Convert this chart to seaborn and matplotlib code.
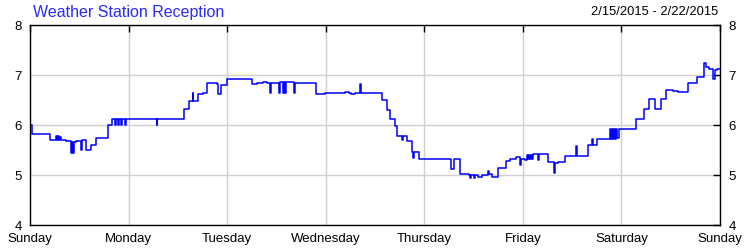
import matplotlib
matplotlib.use("Agg")
import matplotlib.pyplot as plt
import seaborn as sns
import pandas as pd
import numpy as np

# ---- data -------------------------------------------------------------
day_labels = ["Sunday", "Monday", "Tuesday", "Wednesday", "Thursday",
              "Friday", "Saturday", "Sunday"]
y_ticks = [4, 5, 6, 7, 8]
title_text = "Weather Station Reception"
date_range_text = "2/15/2015 - 2/22/2015"

# hours since Sunday 00:00 at which the reading changes
hours = [0.0, 0.4, 4.9, 6.3, 6.6, 6.8, 7.1, 7.3, 7.5, 8.7,
         10.0, 10.2, 10.5, 10.7, 11.2, 12.4, 12.7, 13.6, 14.9, 16.1,
         19.0, 20.0, 20.7, 20.9, 21.4, 21.7, 22.2, 22.4, 23.1, 23.4,
         30.8, 31.0, 37.5, 38.8, 39.6, 39.8, 40.9, 42.1, 43.1, 45.5,
         45.8, 46.5, 47.9, 54.1, 55.2, 56.7, 57.6, 58.4, 58.7, 60.6,
         60.9, 61.6, 61.8, 62.1, 62.3, 64.3, 64.5, 69.6, 71.8, 76.7,
         77.7, 78.2, 79.1, 80.4, 80.6, 85.8, 87.0, 87.7, 88.9, 89.4,
         90.6, 90.8, 91.7, 93.1, 93.3, 93.5, 94.8, 102.5, 103.2, 104.7,
         106.9, 107.1, 107.4, 108.1, 108.4, 109.1, 110.1, 111.5, 111.8, 112.5,
         113.9, 115.9, 116.9, 118.3, 119.3, 119.6, 120.5, 121.0, 121.3, 121.5,
         121.7, 122.0, 122.2, 122.5, 123.7, 123.9, 126.1, 127.6, 127.8, 128.6,
         130.3, 133.0, 133.2, 135.9, 136.8, 137.1, 138.1, 141.2, 141.5, 141.7,
         142.0, 142.2, 142.4, 142.7, 142.9, 143.4, 147.6, 149.5, 150.8, 152.2,
         153.6, 154.9, 156.5, 157.8, 160.1, 162.3, 164.1, 164.5, 165.3, 166.3,
         166.8, 167.3, 168.0]
reception = [6.00, 5.83, 5.70, 5.78, 5.70, 5.78, 5.70, 5.76, 5.70, 5.68,
             5.45, 5.66, 5.45, 5.66, 5.68, 5.50, 5.70, 5.50, 5.60, 5.75,
             6.00, 6.13, 6.00, 6.13, 6.00, 6.13, 6.00, 6.13, 6.00, 6.13,
             6.00, 6.13, 6.33, 6.49, 6.65, 6.49, 6.63, 6.65, 6.85, 6.82,
             6.62, 6.81, 6.93, 6.82, 6.84, 6.86, 6.84, 6.65, 6.84, 6.65,
             6.86, 6.65, 6.87, 6.65, 6.86, 6.65, 6.85, 6.62, 6.65, 6.67,
             6.65, 6.63, 6.65, 6.83, 6.65, 6.50, 6.31, 6.13, 5.99, 5.78,
             5.70, 5.78, 5.68, 5.47, 5.35, 5.47, 5.33, 5.12, 5.33, 5.02,
             5.00, 4.95, 5.00, 4.95, 5.00, 4.97, 5.00, 5.08, 5.02, 4.96,
             5.15, 5.28, 5.33, 5.36, 5.20, 5.33, 5.31, 5.40, 5.33, 5.40,
             5.33, 5.40, 5.33, 5.42, 5.30, 5.42, 5.26, 5.05, 5.24, 5.26,
             5.38, 5.58, 5.38, 5.61, 5.72, 5.61, 5.73, 5.93, 5.73, 5.93,
             5.73, 5.93, 5.73, 5.93, 5.75, 5.93, 6.13, 6.33, 6.53, 6.33,
             6.53, 6.71, 6.68, 6.66, 6.85, 6.97, 7.25, 7.16, 7.12, 6.92,
             7.10, 7.12, 7.12]

# ---- figure -----------------------------------------------------------
sns.set_theme(style="white")
plt.rcParams["font.family"] = ["Liberation Sans", "DejaVu Sans"]

df = pd.DataFrame({"day": np.array(hours) / 24.0, "value": reception})

fig = plt.figure(figsize=(7.5, 2.5), dpi=100)
ax = fig.add_axes([30 / 750, 25 / 250, 690 / 750, 200 / 250])

sns.lineplot(data=df, x="day", y="value", ax=ax, color="#0000ff",
             linewidth=1.1, estimator=None, sort=False,
             drawstyle="steps-post")

ax.set_xlim(0, 7)
ax.set_ylim(4, 8)
ax.set_xticks(range(len(day_labels)))
ax.set_xticklabels(day_labels)
ax.set_yticks(y_ticks)
ax.set_xlabel("")
ax.set_ylabel("")

ax.grid(True, color="#d0d0d0", linewidth=1)
ax.set_axisbelow(True)
for s in ax.spines.values():
    s.set_color("black")
    s.set_linewidth(1)
    s.set_visible(True)

ax.tick_params(axis="both", direction="in", length=5, width=1,
               color="black", labelsize=9.5, labelcolor="black",
               top=True, right=True, labelright=True, pad=6)
ax.tick_params(axis="x", pad=6)

fig.text(33 / 750, 1 - 12 / 250, title_text, color="#2a2aff",
         fontsize=11.5, va="center", ha="left")
fig.text(718 / 750, 1 - 12 / 250, date_range_text, color="black",
         fontsize=9.3, va="center", ha="right")

fig.savefig("out.png", dpi=100)
